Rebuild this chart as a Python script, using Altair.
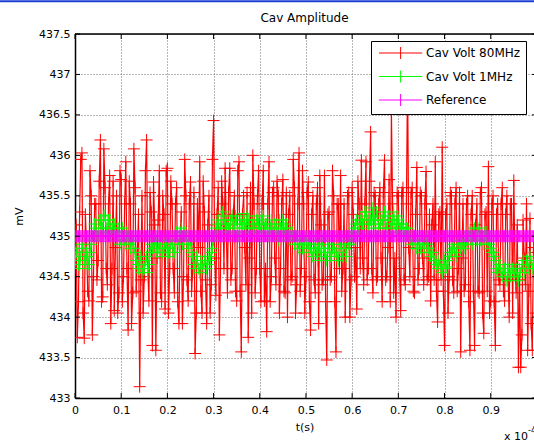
import altair as alt
import pandas as pd

# ---------------- data ----------------
series_names = ["Cav Volt 80MHz", "Cav Volt 1MHz", "Reference"]
series_colors = ["#ff0000", "#00ff00", "#ff00ff"]
dt = 0.0025  # sample spacing on the t axis (x 10^-4 s)

# red trace, read as two interleaved halves (even / odd samples)
red_even = [
    434.6, 433.75, 435.3, 436.03, 433.74, 434.9, 434.2, 435.5, 434.5, 435.4,
    434.7, 436.19, 434.25, 435.6, 434.4, 435.75, 434.6, 434.08, 435.5, 434.3,
    435.7, 434.5, 435.92, 433.84, 435.4, 434.3, 435.6, 434.8, 433.14, 435.5,
    434.5, 436.19, 434.2, 435.3, 435.67, 433.59, 435.2, 434.3, 435.5, 434.1,
    435.84, 434.6, 435.4, 434.3, 435.6, 433.92, 435.3, 434.5, 435.5, 434.2,
    435.67, 434.6, 433.55, 435.4, 435.92, 434.05, 435.3, 433.92, 435.5, 434.4,
    436.43, 434.27, 435.6, 434.6, 435.4, 435.84, 434.3, 435.84, 434.6, 435.5,
    434.2, 435.92, 433.57, 435.5, 434.4, 433.75, 435.6, 436.0, 434.3, 435.5,
    434.6, 435.4, 434.2, 433.82, 435.92, 434.5, 435.6, 434.4, 435.5, 434.6,
    435.7, 434.3, 434.0, 435.5, 434.5, 435.6, 434.4, 436.03, 434.6, 435.4,
    434.5, 435.67, 433.84, 435.5, 434.3, 435.6, 435.75, 434.4, 435.75, 433.47,
    435.3, 434.5, 435.5, 433.57, 435.4, 435.75, 434.6, 434.0, 435.5, 434.0,
    435.6, 434.5, 434.1, 435.4, 435.94, 434.4, 435.92, 434.6, 436.29, 434.3,
    435.5, 434.5, 435.6, 434.19, 435.94, 434.5, 435.7, 436.54, 434.3, 434.0,
    435.5, 434.08, 435.6, 434.4, 437.0, 434.5, 435.6, 434.3, 435.85, 434.6,
    435.5, 434.4, 435.8, 434.5, 434.2, 435.4, 435.92, 433.94, 435.3, 436.1,
    433.65, 435.4, 434.5, 435.5, 434.3, 435.6, 434.6, 433.57, 435.4, 434.4,
    435.5, 433.59, 435.5, 433.65, 435.4, 434.3, 435.6, 433.8, 435.3, 435.86,
    434.2, 435.5, 433.65, 435.4, 434.4, 435.6, 434.2, 435.5, 434.0, 435.4,
    435.69, 434.3, 433.38, 433.38, 435.2, 434.4, 433.59, 435.22, 433.59, 434.8,
]
red_odd = [
    435.14, 434.19, 435.95, 434.05, 435.27, 434.32, 435.81, 433.78, 435.4, 434.46,
    435.68, 434.19, 436.08, 434.6, 435.4, 433.92, 435.68, 434.86, 434.05, 435.81,
    434.19, 435.4, 434.6, 435.68, 433.92, 436.08, 434.32, 435.27, 434.46, 434.05,
    435.81, 434.6, 435.54, 433.65, 435.14, 434.73, 435.81, 434.19, 435.27, 435.81,
    434.05, 435.68, 434.6, 435.4, 434.19, 435.0, 433.92, 435.95, 434.46, 435.4,
    434.32, 435.54, 434.05, 434.86, 434.32, 435.68, 434.46, 435.14, 434.05, 435.95,
    434.73, 435.27, 433.78, 435.68, 434.6, 435.14, 435.54, 434.46, 435.27, 434.32,
    435.81, 434.32, 435.27, 434.86, 435.54, 434.73, 434.05, 435.4, 434.6, 435.81,
    434.19, 435.81, 434.6, 435.4, 434.19, 435.54, 434.73, 435.68, 434.05, 435.4,
    434.32, 435.54, 435.27, 434.46, 435.95, 434.05, 435.4, 434.32, 435.81, 434.05,
    435.54, 434.19, 435.27, 434.46, 435.4, 433.92, 435.14, 434.46, 434.19, 435.27,
    434.46, 435.81, 434.19, 435.4, 434.6, 434.32, 435.4, 434.86, 435.54, 434.46,
    435.27, 434.86, 435.68, 434.6, 434.73, 435.4, 434.46, 435.68, 434.6, 435.54,
    434.46, 435.4, 434.73, 435.54, 434.46, 434.86, 434.19, 435.4, 434.73, 435.54,
    434.6, 435.54, 434.46, 435.4, 434.86, 435.54, 434.32, 435.27, 434.46, 435.54,
    434.73, 435.4, 434.46, 435.27, 435.14, 434.46, 434.32, 435.27, 434.46, 434.32,
    435.27, 434.05, 435.54, 434.46, 435.4, 434.32, 435.54, 434.73, 434.32, 435.4,
    434.19, 435.27, 434.32, 435.14, 434.32, 435.54, 434.05, 435.27, 434.32, 434.05,
    435.4, 434.19, 435.27, 434.46, 435.4, 434.32, 435.27, 434.46, 435.4, 434.05,
    434.6, 435.14, 434.46, 433.78, 434.73, 435.4, 434.32, 433.92, 434.86, 434.05,
]

# green trace, also as two interleaved halves
green_even = [
    434.7, 434.85, 434.6, 434.9, 434.7, 434.8, 434.65, 434.9,
    434.95, 435.1, 435.0, 435.2, 435.1, 435.26, 435.05, 435.2, 435.1, 435.15,
    435.0, 435.1, 434.95, 435.05, 434.9, 435.0, 434.85, 434.95,
    434.8, 434.65, 434.7, 434.55, 434.6, 434.75, 434.65,
    434.9, 434.8, 435.0, 434.85, 434.95, 434.8, 434.9, 434.75, 434.85, 434.95, 434.8,
    435.05, 434.9, 435.1, 434.95, 435.0, 434.85, 434.95,
    434.75, 434.6, 434.7, 434.55, 434.65, 434.7, 434.6, 434.75, 434.8,
    434.95, 435.1, 435.2, 435.1, 435.3, 435.15,
    435.2, 435.05, 435.25, 435.1, 435.2, 435.0, 435.15, 435.28, 435.1, 435.2,
    435.0, 435.15, 435.1, 435.25, 435.05, 435.2, 435.1,
    435.15, 435.0, 435.2, 435.05, 435.15, 434.95, 435.1, 435.2, 435.0, 435.1,
    434.95, 435.05, 434.9,
    435.0, 434.85, 434.95, 434.8, 435.0, 434.9, 434.85,
    434.75, 434.9, 434.7, 434.85, 434.95, 434.8, 434.7, 434.85, 434.75, 434.9,
    434.8, 434.7, 434.9, 434.75, 434.85, 434.95, 434.9, 435.0,
    435.1, 435.2, 435.05, 435.25, 435.15, 435.3, 435.1, 435.2, 435.35, 435.15,
    435.25, 435.1,
    435.2, 435.3, 435.1, 435.25, 435.15, 435.3, 435.05, 435.2, 435.1, 435.15,
    435.0, 435.1, 434.95,
    434.9, 435.0, 434.85, 434.95, 434.8, 434.9, 435.0, 434.85, 434.75, 434.8,
    434.7, 434.6, 434.65, 434.55, 434.7, 434.62, 434.75,
    434.8, 434.9, 434.75, 434.95, 434.85, 434.9, 435.0, 434.9,
    435.05, 434.9, 435.1, 434.95, 435.05, 435.0, 434.9, 435.05, 434.95, 434.85, 434.8,
    434.7, 434.55, 434.65, 434.5, 434.6, 434.45, 434.55, 434.65, 434.5, 434.6,
    434.45, 434.55, 434.7, 434.6, 434.65, 434.75, 434.6, 434.7, 434.65,
]
green_odd = [
    434.8, 434.65, 434.75, 434.85, 434.6, 434.75, 434.8, 435.0,
    435.15, 435.0, 435.2, 435.05, 435.25, 435.1, 435.2, 435.0, 435.15, 435.05,
    435.05, 434.9, 435.1, 434.95, 435.05, 434.9, 434.95, 434.85,
    434.7, 434.6, 434.75, 434.6, 434.7, 434.55, 434.8,
    434.85, 434.95, 434.8, 434.9, 434.75, 434.85, 434.95, 434.8, 434.9, 434.8, 434.95,
    434.95, 435.05, 434.9, 435.05, 434.9, 435.0, 434.8,
    434.65, 434.75, 434.6, 434.7, 434.6, 434.75, 434.65, 434.7, 434.85,
    435.0, 435.15, 435.05, 435.25, 435.2, 435.1,
    435.1, 435.2, 435.15, 435.25, 435.05, 435.2, 435.1, 435.15, 435.25, 435.05,
    435.2, 435.1, 435.2, 435.15, 435.1, 435.25, 435.15,
    435.05, 435.1, 435.0, 435.15, 435.05, 435.2, 435.05, 435.1, 435.15, 435.0,
    435.05, 435.0, 434.95,
    434.9, 434.95, 434.85, 434.95, 434.85, 434.95, 434.8,
    434.85, 434.8, 434.9, 434.75, 434.85, 434.8, 434.9, 434.75, 434.85, 434.8,
    434.75, 434.85, 434.8, 434.9, 434.75, 434.9, 435.0, 435.05,
    435.15, 435.1, 435.2, 435.15, 435.3, 435.2, 435.25, 435.15, 435.2, 435.3,
    435.1, 435.2,
    435.15, 435.2, 435.25, 435.1, 435.2, 435.15, 435.25, 435.1, 435.15, 435.05,
    435.1, 435.05, 434.95,
    434.95, 434.85, 434.9, 434.85, 434.95, 434.85, 434.9, 434.8, 434.8, 434.7,
    434.65, 434.7, 434.6, 434.65, 434.6, 434.7, 434.8,
    434.85, 434.8, 434.9, 434.85, 434.95, 434.85, 434.95, 435.0,
    434.95, 435.05, 435.0, 435.1, 434.95, 435.0, 435.05, 434.9, 434.9, 434.8, 434.75,
    434.6, 434.65, 434.55, 434.6, 434.5, 434.6, 434.5, 434.6, 434.55, 434.5,
    434.6, 434.65, 434.55, 434.7, 434.6, 434.7, 434.65, 434.6, 434.7,
]

red_values = [v for pair in zip(red_even, red_odd) for v in pair]
green_values = [v for pair in zip(green_even, green_odd) for v in pair]
ref_values = [435.0] * 402  # constant reference level

x_ticks = [0, 0.1, 0.2, 0.3, 0.4, 0.5, 0.6, 0.7, 0.8, 0.9]
y_ticks = [433, 433.5, 434, 434.5, 435, 435.5, 436, 436.5, 437, 437.5]


def frame(vals, name):
    return pd.DataFrame({"t": [i * dt for i in range(len(vals))], "v": vals, "series": name})


red_df = frame(red_values, series_names[0])
green_df = frame(green_values, series_names[1])
ref_df = frame(ref_values, series_names[2])

# ---------------- styling ----------------
F = "DejaVu Sans"
W, H = 459, 364
CROSS = "M-1,0H1M0,-1V1"
LEG = "M-3.6,0H3.6M0,-1V1"

xs = alt.Scale(domain=[0, 0.9937], nice=False, zero=False)
ys = alt.Scale(domain=[433, 437.5], nice=False, zero=False)
cs = alt.Scale(domain=series_names, range=series_colors)

xaxis = alt.Axis(title="t(s)", values=x_ticks, format="~g", grid=True,
                 gridColor="#6e6e6e", gridDash=[1, 2], gridWidth=1,
                 ticks=False, tickSize=0, domain=True, domainColor="black",
                 domainWidth=1.5, labelFont=F, labelFontSize=11, labelPadding=6,
                 labelColor="black", labelFlush=False, labelOverlap=False,
                 titleFont=F, titleFontSize=11, titleFontWeight="normal",
                 titlePadding=6, titleColor="black")
yaxis = alt.Axis(title="mV", values=y_ticks, format="~g", grid=True,
                 gridColor="#6e6e6e", gridDash=[1, 2], gridWidth=1,
                 ticks=False, tickSize=0, domain=True, domainColor="black",
                 domainWidth=1.5, labelFont=F, labelFontSize=11, labelPadding=5,
                 labelColor="black", labelFlush=False, labelOverlap=False,
                 titleFont=F, titleFontSize=11, titleFontWeight="normal",
                 titlePadding=14, titleColor="black")

legend = alt.Legend(title=None, orient="none", legendX=296, legendY=7,
                    symbolType=LEG, symbolSize=144, symbolStrokeWidth=1,
                    symbolOffset=17.6, labelOffset=18.9, labelFont=F,
                    labelFontSize=12, labelColor="black", labelLimit=0,
                    padding=5.5, rowPadding=6.5, fillColor="white",
                    strokeColor="black")


def line_layer(df, color, width):
    return alt.Chart(df).mark_line(color=color, strokeWidth=width, clip=True).encode(
        x=alt.X("t:Q", scale=xs, axis=xaxis),
        y=alt.Y("v:Q", scale=ys, axis=yaxis),
    )


def point_layer(df):
    return alt.Chart(df).mark_point(shape=CROSS, filled=False, size=144,
                                    strokeWidth=1, opacity=1, clip=True).encode(
        x=alt.X("t:Q", scale=xs, axis=xaxis),
        y=alt.Y("v:Q", scale=ys, axis=yaxis),
        color=alt.Color("series:N", scale=cs, legend=legend),
    )


xt_df = pd.DataFrame({"xt": x_ticks})
yt_df = pd.DataFrame({"yt": y_ticks})
one = pd.DataFrame({"a": [0]})

ticks_bottom = alt.Chart(xt_df).mark_rule(color="black", strokeWidth=1).encode(
    x=alt.X("xt:Q", scale=xs), y=alt.value(H), y2=alt.value(H - 5))
ticks_top = alt.Chart(xt_df).mark_rule(color="black", strokeWidth=1).encode(
    x=alt.X("xt:Q", scale=xs), y=alt.value(0), y2=alt.value(5))
ticks_left = alt.Chart(yt_df).mark_rule(color="black", strokeWidth=1).encode(
    y=alt.Y("yt:Q", scale=ys), x=alt.value(0), x2=alt.value(5))
ticks_right = alt.Chart(yt_df).mark_rule(color="black", strokeWidth=1).encode(
    y=alt.Y("yt:Q", scale=ys), x=alt.value(W - 2), x2=alt.value(W + 3))
top_border = alt.Chart(one).mark_rule(color="black", strokeWidth=1.5).encode(
    x=alt.value(0), x2=alt.value(W), y=alt.value(0))
blue_line = alt.Chart(one).mark_rule(color="#1a3fd4", strokeWidth=2).encode(
    x=alt.value(-75), x2=alt.value(W), y=alt.value(-32.7))
exp_text = alt.Chart(one).mark_text(text="x 10", font=F, fontSize=11, align="left",
                                    baseline="middle", color="black").encode(
    x=alt.value(429), y=alt.value(403))
exp_sup = alt.Chart(one).mark_text(text="-4", font=F, fontSize=8, align="left",
                                   baseline="middle", color="black").encode(
    x=alt.value(453), y=alt.value(397))

chart = alt.layer(
    line_layer(red_df, series_colors[0], 1.2), point_layer(red_df),
    line_layer(green_df, series_colors[1], 1), point_layer(green_df),
    line_layer(ref_df, series_colors[2], 1), point_layer(ref_df),
    ticks_bottom, ticks_top, ticks_left, ticks_right, top_border,
    blue_line, exp_text, exp_sup,
).properties(
    width=W, height=H,
    padding={"left": 75, "top": 34, "right": 0, "bottom": 43},
    autosize=alt.AutoSizeParams(type="none"),
    title=alt.TitleParams("Cav Amplitude", font=F, fontSize=12, fontWeight="normal",
                          anchor="middle", frame="group", baseline="alphabetic",
                          offset=13, dy=46.2, color="black"),
).configure_view(stroke=None).configure(background="white")

chart.save("out.html", embed_options={"renderer": "svg", "actions": False})
